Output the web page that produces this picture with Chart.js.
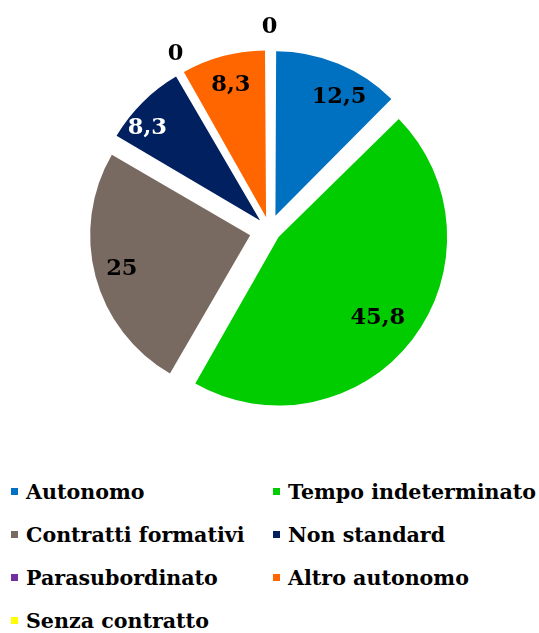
<!DOCTYPE html>
<html>
<head>
<meta charset="utf-8">
<script src="https://cdn.jsdelivr.net/npm/chart.js@4"></script>
<style>
  body { margin: 0; background: #fff; width: 539px; height: 633px; position: relative; overflow: hidden; }
  #wrap { position: absolute; left: 0; top: 0; width: 539px; height: 460px; }
  #legenda { position: absolute; left: 0; top: 471px; width: 539px; font-family: "DejaVu Serif", serif; font-weight: bold; font-size: 20.6px; color: #000; }
  .voce { position: absolute; height: 43px; line-height: 43px; white-space: nowrap; }
  .voce span.q { display: inline-block; width: 7px; height: 7px; margin-right: 8px; vertical-align: middle; position: relative; top: -2px; }
</style>
</head>
<body>
<div id="wrap"><canvas id="torta" width="539" height="460"></canvas></div>
<div id="legenda"></div>
<script>
// Dati del grafico
const categorie = ['Autonomo', 'Tempo indeterminato', 'Contratti formativi', 'Non standard', 'Parasubordinato', 'Altro autonomo', 'Senza contratto'];
const valori = [12.5, 45.8, 25, 8.3, 0, 8.3, 0];
const etichette = ['12,5', '45,8', '25', '8,3', '0', '8,3', '0'];
const colori = ['#0070C0', '#00CC00', '#786A60', '#002060', '#7030A0', '#FF6600', '#FFFF00'];

const ESPLOSO = 20; // distacco delle fette in px
const totale = valori.reduce((a, b) => a + b, 0);

// Chart.js trasla l'arco di offset/4 * (2 - sin(ampiezza)): compenso per avere un distacco uniforme
function offsetFetta(c) {
  const ampiezza = valori[c.dataIndex] / totale * 2 * Math.PI;
  return ESPLOSO * 4 / (2 - Math.sin(Math.min(Math.PI, ampiezza)));
}

// posizione delle etichette: frazione del raggio e piccola rotazione (gradi), come nell'originale
const posRaggio = [0.81, 0.75, 0.83, 0.87, 1.12, 0.81, 1.14];
const posRuota = [6, 2, 0, -6, 2, 0, 0];

// Plugin per le etichette dei valori
const etichettePlugin = {
  id: 'etichette',
  afterDatasetsDraw(chart) {
    const ctx = chart.ctx;
    const meta = chart.getDatasetMeta(0);
    ctx.save();
    ctx.font = 'bold 22.5px "DejaVu Serif"';
    ctx.textAlign = 'center';
    ctx.textBaseline = 'middle';
    meta.data.forEach((arc, i) => {
      const p = arc.getProps(['x', 'y', 'startAngle', 'endAngle', 'outerRadius'], true);
      const mid = (p.startAngle + p.endAngle) / 2;
      const a = mid + posRuota[i] * Math.PI / 180;
      const r = p.outerRadius * posRaggio[i];
      const x = p.x + Math.cos(mid) * ESPLOSO + Math.cos(a) * r;
      const y = p.y + Math.sin(mid) * ESPLOSO + Math.sin(a) * r;
      ctx.fillStyle = i === 3 ? '#ffffff' : '#000000';
      ctx.fillText(etichette[i], x, y);
    });
    ctx.restore();
  }
};

new Chart(document.getElementById('torta'), {
  type: 'pie',
  data: {
    labels: categorie,
    datasets: [{
      data: valori,
      backgroundColor: colori,
      borderWidth: 0,
      offset: offsetFetta
    }]
  },
  options: {
    responsive: false,
    animation: false,
    radius: 160,
    layout: { padding: 0 },
    plugins: {
      legend: { display: false },
      tooltip: { enabled: false }
    }
  },
  plugins: [etichettePlugin]
});

// Legenda su due colonne
const legenda = document.getElementById('legenda');
categorie.forEach((nome, i) => {
  const d = document.createElement('div');
  d.className = 'voce';
  d.style.left = (i % 2 === 0 ? 11 : 273) + 'px';
  d.style.top = (Math.floor(i / 2) * 43) + 'px';
  d.innerHTML = '<span class="q" style="background:' + colori[i] + '"></span>' + nome;
  legenda.appendChild(d);
});
</script>
</body>
</html>
